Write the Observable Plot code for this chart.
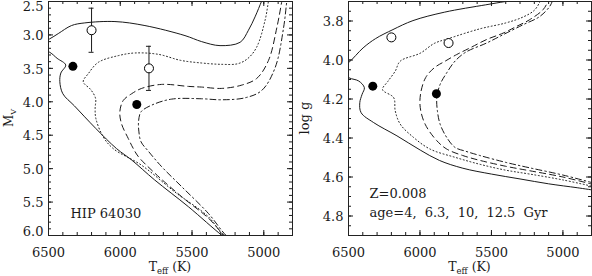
<!DOCTYPE html>
<html><head><meta charset="utf-8">
<script src="https://cdn.jsdelivr.net/npm/d3@7"></script>
<script src="https://cdn.jsdelivr.net/npm/@observablehq/plot@0.6"></script>
<style>
body{margin:0;background:#fff;}
#row{display:flex;width:592px;height:276px;overflow:hidden;}
</style></head><body><div id="row"></div>
<script>
// ---- tick labels ----
const X_MAJOR = [6500, 6000, 5500, 5000];
const MV_MAJOR = [2.5, 3.0, 3.5, 4.0, 4.5, 5.0, 5.5, 6.0];
const LOGG_MAJOR = [3.8, 4.0, 4.2, 4.4, 4.6, 4.8];
const AGES = ["4", "6.3", "10", "12.5"]; // Gyr: solid, dotted, dashed, dash-dot

// ---- left panel isochrones [Teff, M_V] ----
const mv_4 = [[5220,6.1],[5290,6.0],[5525,5.57],[5760,5.17],[5921,4.87],[6026,4.70],[6170,4.40],[6320,4.06],[6400,3.88],[6421,3.70],[6414,3.57],[6380,3.45],[6440,3.35],[6491,3.26],[6600,3.16],[6493,3.06],[6432,2.98],[6340,2.86],[6247,2.82],[6037,2.80],[5828,2.86],[5549,3.01],[5433,3.10],[5305,3.16],[5165,3.11],[5107,2.93],[5061,2.73],[5014,2.49],[4995,2.40]];
const mv_63 = [[5205,6.1],[5280,6.0],[5386,5.72],[5619,5.35],[5851,4.95],[6049,4.70],[6120,4.52],[6170,4.25],[6175,4.10],[6172,3.95],[6205,3.82],[6258,3.70],[6223,3.58],[6153,3.41],[6014,3.31],[5898,3.27],[5735,3.29],[5580,3.38],[5433,3.42],[5293,3.44],[5180,3.43],[5110,3.35],[5049,3.18],[4991,2.78],[4967,2.49],[4958,2.38]];
const mv_10 = [[5195,6.1],[5272,6.0],[5386,5.74],[5572,5.42],[5758,5.07],[5874,4.82],[5909,4.70],[5944,4.55],[5991,4.33],[6003,4.15],[5979,3.98],[5921,3.88],[5851,3.80],[5712,3.74],[5525,3.77],[5433,3.78],[5293,3.80],[5153,3.75],[5049,3.65],[4967,3.38],[4909,2.89],[4874,2.49],[4865,2.38]];
const mv_125 = [[5185,6.12],[5262,6.0],[5386,5.67],[5572,5.27],[5712,4.97],[5804,4.74],[5855,4.60],[5870,4.45],[5872,4.28],[5855,4.15],[5781,4.05],[5642,3.96],[5433,3.955],[5293,3.97],[5130,3.94],[5014,3.83],[4921,3.49],[4862,2.89],[4839,2.49],[4830,2.38]];

// ---- right panel isochrones [Teff, log g] ----
const g_4 = [[4780,4.668],[4900,4.655],[5100,4.635],[5300,4.61],[5500,4.585],[5700,4.555],[5864,4.515],[5998,4.462],[6161,4.389],[6324,4.321],[6412,4.27],[6421,4.219],[6405,4.176],[6389,4.142],[6428,4.108],[6498,4.091],[6580,4.05],[6502,4.015],[6398,3.938],[6310,3.89],[6189,3.844],[6049,3.798],[5830,3.755],[5540,3.717],[5400,3.70],[5250,3.685]];
const g_63 = [[4780,4.65],[5000,4.615],[5232,4.585],[5400,4.565],[5580,4.535],[5750,4.50],[5929,4.457],[6045,4.397],[6138,4.329],[6173,4.261],[6184,4.193],[6262,4.152],[6225,4.11],[6173,4.057],[6138,4.006],[5998,3.965],[5900,3.915],[5800,3.89],[5580,3.84],[5400,3.81],[5280,3.78],[5200,3.745],[5160,3.70],[5150,3.68]];
const g_10 = [[4780,4.64],[5000,4.60],[5232,4.568],[5400,4.545],[5580,4.515],[5700,4.49],[5812,4.457],[5882,4.414],[5964,4.329],[5998,4.244],[5995,4.17],[5960,4.09],[5900,4.04],[5824,4.006],[5743,3.972],[5650,3.938],[5534,3.895],[5418,3.862],[5325,3.828],[5232,3.793],[5139,3.742],[5105,3.70],[5095,3.68]];
const g_125 = [[4780,4.632],[5000,4.59],[5232,4.553],[5400,4.525],[5580,4.49],[5680,4.468],[5755,4.448],[5813,4.397],[5859,4.329],[5878,4.261],[5882,4.193],[5859,4.125],[5813,4.066],[5755,4.006],[5680,3.96],[5534,3.913],[5418,3.87],[5278,3.819],[5162,3.777],[5093,3.726],[5075,3.70],[5068,3.68]];

// ---- stars ----
const starTeff = [6200, 5800, 6330, 5885];
const starMv = [2.93, 3.50, 3.47, 4.04];
const starMvErr = [0.33, 0.33, 0, 0];
const starLogg = [3.884, 3.913, 4.134, 4.173];
const starOpen = [true, true, false, false];

const FONT = "'DejaVu Serif', serif";
const INK = "#1a1a1a";
const DASHES = [null, "1,2.5", "6,4", "6,3,1.5,3"];

function isoMarks(series) {
  return series.map((pts, i) => Plot.line(pts.map(([T, v]) => ({T, v, age: AGES[i]})), {
    x: "T", y: "v", stroke: INK, strokeWidth: 1,
    strokeDasharray: DASHES[i] || undefined, curve: "catmull-rom", clip: true
  }));
}

function tickMarks(xMinor, yMajor, yMinor, W, H) {
  const o = {stroke: INK, strokeWidth: 1};
  return [
    Plot.tickX(X_MAJOR, {x: d => d, insetTop: H - 5, ...o}),
    Plot.tickX(X_MAJOR, {x: d => d, insetBottom: H - 5, ...o}),
    Plot.tickX(xMinor, {x: d => d, insetTop: H - 3, ...o}),
    Plot.tickX(xMinor, {x: d => d, insetBottom: H - 3, ...o}),
    Plot.tickY(yMajor, {y: d => d, insetRight: W - 5, ...o}),
    Plot.tickY(yMajor, {y: d => d, insetLeft: W - 5, ...o}),
    Plot.tickY(yMinor, {y: d => d, insetRight: W - 3, ...o}),
    Plot.tickY(yMinor, {y: d => d, insetLeft: W - 3, ...o})
  ];
}

const xMinor = d3.range(4800, 6501, 100);
const mvMinor = d3.range(25, 61).map(d => d / 10);
const gMinor = d3.range(74, 99).map(d => d / 20);

const stars = starTeff.map((T, i) => ({T, mv: starMv[i], lo: starMv[i] - starMvErr[i], hi: starMv[i] + starMvErr[i], g: starLogg[i], open: starOpen[i], err: starMvErr[i]}));
const errStars = stars.filter(d => d.err > 0);
const caps = errStars.flatMap(d => [{T: d.T, y: d.lo}, {T: d.T, y: d.hi}]);

const H = 276, W = 296;
const fmt1 = d3.format(".1f");
const xAxis = () => Plot.axisX({ticks: X_MAJOR, tickSize: 0, tickPadding: 12, tickFormat: d => String(d), label: null, fontSize: 13});

// ---- left panel ----
const L = {ml: 48, mr: 4, mt: 1, mb: 41};
const left = Plot.plot({
  width: W, height: H,
  marginLeft: L.ml, marginRight: L.mr, marginTop: L.mt, marginBottom: L.mb,
  style: {fontFamily: FONT, fontSize: "13px", color: INK, background: "#fff", overflow: "visible"},
  x: {domain: [6500, 4800]},
  y: {domain: [6.0, 2.5]},
  marks: [
    ...isoMarks([mv_4, mv_63, mv_10, mv_125]),
    Plot.ruleX(errStars, {x: "T", y1: "lo", y2: "hi", stroke: INK, strokeWidth: 1}),
    Plot.ruleY(caps, {y: "y", x1: "T", x2: "T", insetLeft: -2.5, insetRight: -2.5, stroke: INK}),
    Plot.dot(stars.filter(d => d.open), {x: "T", y: "mv", r: 4.5, stroke: "#000", fill: "#fff", strokeWidth: 1}),
    Plot.dot(stars.filter(d => !d.open), {x: "T", y: "mv", r: 4.5, fill: "#000", stroke: "none"}),
    Plot.text(["HIP 64030"], {frameAnchor: "bottom-left", dx: 22, dy: -22, textAnchor: "start", lineAnchor: "middle", fontSize: 13, fill: INK}),
    ...tickMarks(xMinor, MV_MAJOR, mvMinor, W - L.ml - L.mr, H - L.mt - L.mb),
    Plot.frame({stroke: "#222", strokeWidth: 1}),
    xAxis(),
    Plot.axisY({ticks: MV_MAJOR.slice(1, -1), tickSize: 0, tickPadding: 5, tickFormat: fmt1, label: null, fontSize: 13, dy: 1}),
    Plot.axisY({ticks: MV_MAJOR.slice(0, 1), tickSize: 0, tickPadding: 5, tickFormat: fmt1, label: null, fontSize: 13, dy: 5}),
    Plot.axisY({ticks: MV_MAJOR.slice(-1), tickSize: 0, tickPadding: 5, tickFormat: fmt1, label: null, fontSize: 13, dy: -4})
  ]
});

// ---- right panel ----
const R = {ml: 52, mr: 1, mt: 1, mb: 41};
const right = Plot.plot({
  width: W, height: H,
  marginLeft: R.ml, marginRight: R.mr, marginTop: R.mt, marginBottom: R.mb,
  style: {fontFamily: FONT, fontSize: "13px", color: INK, background: "#fff", overflow: "visible"},
  x: {domain: [6500, 4800]},
  y: {domain: [4.9, 3.7]},
  marks: [
    ...isoMarks([g_4, g_63, g_10, g_125]),
    Plot.dot(stars.filter(d => d.open), {x: "T", y: "g", r: 4.5, stroke: "#000", fill: "#fff", strokeWidth: 1}),
    Plot.dot(stars.filter(d => !d.open), {x: "T", y: "g", r: 4.5, fill: "#000", stroke: "none"}),
    Plot.text(["Z=0.008"], {frameAnchor: "bottom-left", dx: 21, dy: -42, textAnchor: "start", lineAnchor: "middle", fontSize: 13, fill: INK}),
    Plot.text(["age=" + AGES.join(", ") + " Gyr"], {frameAnchor: "bottom-left", dx: 21, dy: -23, textAnchor: "start", lineAnchor: "middle", fontSize: 13, fill: INK}),
    ...tickMarks(xMinor, LOGG_MAJOR, gMinor, W - R.ml - R.mr, H - R.mt - R.mb),
    Plot.frame({stroke: "#222", strokeWidth: 1}),
    xAxis(),
    Plot.axisY({ticks: LOGG_MAJOR, tickSize: 0, tickPadding: 5, tickFormat: fmt1, label: null, fontSize: 13, dy: 1})
  ]
});

// ---- axis titles with subscripts ----
function teffLabel(svg, cx) {
  const t = d3.select(svg).append("text").attr("x", cx).attr("y", 271)
    .attr("text-anchor", "middle").attr("fill", INK).style("font-family", FONT).style("font-size", "12.5px");
  t.append("tspan").text("T");
  t.append("tspan").attr("font-size", "8.5px").attr("dy", 2.5).text("eff");
  t.append("tspan").attr("dy", -2.5).text(" (K)");
}
teffLabel(left, (L.ml + W - L.mr) / 2);
teffLabel(right, (R.ml + W - R.mr) / 2);

const mv = d3.select(left).append("text").attr("transform", "translate(13,118) rotate(-90)")
  .attr("text-anchor", "middle").attr("fill", INK).style("font-family", FONT).style("font-size", "12px");
mv.append("tspan").text("M");
mv.append("tspan").attr("font-size", "8px").attr("dy", 2.5).text("V");

d3.select(right).append("text").attr("transform", "translate(13,118) rotate(-90)")
  .attr("text-anchor", "middle").attr("fill", INK).style("font-family", FONT).style("font-size", "13px")
  .text("log g");

d3.select(right).selectAll("text").filter(function() { return this.textContent.startsWith("age="); })
  .style("word-spacing", "4px");

document.getElementById("row").append(left, right);
</script>
</body></html>
